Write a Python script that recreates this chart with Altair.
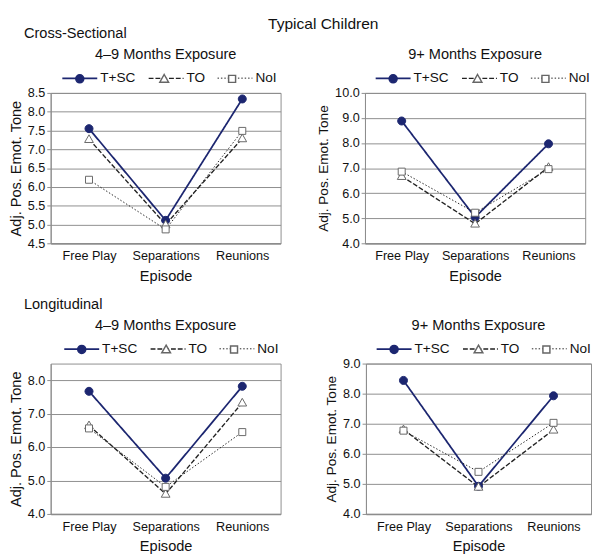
import altair as alt
import pandas as pd

# ---------------- data ----------------
episodes = ["Free Play", "Separations", "Reunions"]
series = ["T+SC", "TO", "NoI"]

# Cross-sectional, 4-9 months exposure
cs_49_tsc = [7.55, 5.11, 8.34]
cs_49_to = [7.27, 5.00, 7.29]
cs_49_noi = [6.19, 4.87, 7.49]
cs_49_ticks = [4.5, 5.0, 5.5, 6.0, 6.5, 7.0, 7.5, 8.0, 8.5]

# Cross-sectional, 9+ months exposure
cs_9p_tsc = [8.88, 5.04, 7.97]
cs_9p_to = [6.68, 4.78, 7.04]
cs_9p_noi = [6.86, 5.22, 6.96]
cs_9p_ticks = [4.0, 5.0, 6.0, 7.0, 8.0, 9.0, 10.0]

# Longitudinal, 4-9 months exposure
lo_49_tsc = [7.67, 5.07, 7.82]
lo_49_to = [6.65, 4.60, 7.33]
lo_49_noi = [6.56, 4.81, 6.45]
lo_49_ticks = [4.0, 5.0, 6.0, 7.0, 8.0]

# Longitudinal, 9+ months exposure
lo_9p_tsc = [8.44, 4.92, 7.93]
lo_9p_to = [6.81, 4.90, 6.80]
lo_9p_noi = [6.77, 5.40, 7.03]
lo_9p_ticks = [4.0, 5.0, 6.0, 7.0, 8.0, 9.0]

NAVY = "#1c2670"
GRID = "#8c8c8c"
TXT = "#111111"
SYM = 1296  # 36px symbol box

marker_keys = [s + "_m" for s in series]
marker_paths = [
    "M-0.23,0A0.23,0.23,0,1,0,0.23,0A0.23,0.23,0,1,0,-0.23,0Z",
    "M0,-0.25L0.25,0.19L-0.25,0.19Z",
    "M-0.2,-0.2H0.2V0.2H-0.2Z",
]


def frame(tsc, to, noi):
    rows = []
    for s, vals in zip(series, [tsc, to, noi]):
        for e, v in zip(episodes, vals):
            rows.append({"episode": e, "series": s, "mk": s + "_m", "value": v})
    return pd.DataFrame(rows)


def panel(df, ticks, ymin, ymax, lx, ly, ytitle_size):
    base = alt.Chart(df).encode(
        x=alt.X(
            "episode:N",
            sort=episodes,
            scale=alt.Scale(type="point", padding=0.5),
            axis=alt.Axis(
                title="Episode", labelAngle=0, ticks=False, grid=False,
                labelFontSize=13, labelPadding=7, titleFontSize=15,
                titlePadding=6, titleFontWeight="normal", domainColor=GRID,
                domainWidth=1.5, labelColor=TXT, titleColor=TXT,
            ),
        ),
        y=alt.Y(
            "value:Q",
            scale=alt.Scale(domain=[ymin, ymax], nice=False, zero=False),
            axis=alt.Axis(
                title="Adj. Pos. Emot. Tone", values=ticks, format=".1f",
                labelFontSize=13, titleFontSize=ytitle_size,
                titleFontWeight="normal", tickSize=4, tickColor=GRID,
                domainColor=GRID, gridColor=GRID, gridOpacity=1,
                labelPadding=2, titlePadding=4, labelColor=TXT, titleColor=TXT,
            ),
        ),
    )
    common = dict(
        orient="none", legendX=lx, legendY=ly, direction="horizontal",
        columns=3, title=None, symbolSize=SYM, symbolStrokeWidth=1.5,
        labelFontSize=14, labelColor=TXT, columnPadding=10, labelOffset=2,
    )
    leg_a = alt.Legend(symbolType="stroke", **common)
    leg_b = alt.Legend(labelOpacity=0, labelExpr="replace(datum.label, '_m', '')", **common)

    lines = base.mark_line().encode(
        color=alt.Color("series:N", scale=alt.Scale(domain=series, range=[NAVY, "#222222", "#222222"]), legend=leg_a),
        strokeDash=alt.StrokeDash("series:N", scale=alt.Scale(domain=series, range=[[1, 0], [5, 2], [1.5, 2]]), legend=leg_a),
        strokeWidth=alt.StrokeWidth("series:N", scale=alt.Scale(domain=series, range=[1.8, 1, 1]), legend=None),
    )
    pts = base.mark_point(filled=True, size=SYM, strokeWidth=1, opacity=1).encode(
        shape=alt.Shape("mk:N", scale=alt.Scale(domain=marker_keys, range=marker_paths), legend=leg_b),
        fill=alt.Fill("mk:N", scale=alt.Scale(domain=marker_keys, range=[NAVY, "white", "white"]), legend=leg_b),
        stroke=alt.Stroke("mk:N", scale=alt.Scale(domain=marker_keys, range=[NAVY, "#666666", "#666666"]), legend=leg_b),
    )
    return alt.layer(lines, pts)


def indep(ch):
    return ch.resolve_scale(
        x="independent", y="independent", color="independent",
        strokeDash="independent", strokeWidth="independent",
        shape="independent", fill="independent", stroke="independent",
    ).resolve_legend(
        color="independent", strokeDash="independent", shape="independent",
        fill="independent", stroke="independent",
    )


def ptitle(text):
    return alt.TitleParams(text, fontSize=15, fontWeight="normal", color=TXT,
                           anchor="middle", frame="group", offset=-2)


LY = -34
p1 = panel(frame(cs_49_tsc, cs_49_to, cs_49_noi), cs_49_ticks, 4.5, 8.5, 11, LY, 15).properties(
    width=237, height=155, title=ptitle("4\u20139 Months Exposure"))
p2 = panel(frame(cs_9p_tsc, cs_9p_to, cs_9p_noi), cs_9p_ticks, 4.0, 10.0, 10, LY, 14).properties(
    width=227, height=155, title=ptitle("9+ Months Exposure"))
p3 = panel(frame(lo_49_tsc, lo_49_to, lo_49_noi), lo_49_ticks, 4.0, 8.5, 13, LY, 15).properties(
    width=237, height=155, title=ptitle("4\u20139 Months Exposure"))
p4 = panel(frame(lo_9p_tsc, lo_9p_to, lo_9p_noi), lo_9p_ticks, 4.0, 9.0, 10, LY, 14).properties(
    width=232, height=155, title=ptitle("9+ Months Exposure"))

row1 = indep(alt.hconcat(p1, p2, spacing=36)).properties(
    title=alt.TitleParams("Cross-Sectional", fontSize=15, fontWeight="normal", color=TXT, anchor="start", dx=16, offset=6))
row2 = indep(alt.hconcat(p3, p4, spacing=44)).properties(
    title=alt.TitleParams("Longitudinal", fontSize=15, fontWeight="normal", color=TXT, anchor="start", dx=16, offset=6))

chart = indep(alt.vconcat(row1, row2, spacing=13)).properties(
    title=alt.TitleParams("Typical Children", fontSize=16, fontWeight="normal", color=TXT, anchor="middle", dx=24, offset=-6),
    padding=0,
).configure(font="Liberation Sans").configure_view(stroke=GRID, strokeWidth=1)

chart.save("out.html", embed_options={"renderer": "svg", "actions": False})
